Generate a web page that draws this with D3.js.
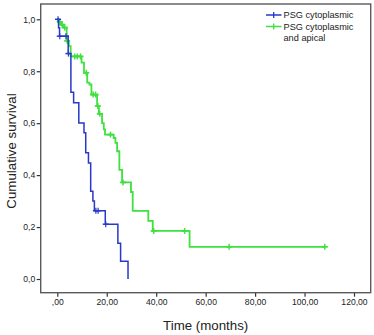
<!DOCTYPE html>
<html><head><meta charset="utf-8">
<script src="https://cdn.jsdelivr.net/npm/d3@7"></script>
<style>
html,body{margin:0;padding:0;background:#fff;}
svg{display:block;font-family:"Liberation Sans",Arial,sans-serif;}
</style></head>
<body>
<svg id="chart" width="374" height="335"></svg>
<script>
// ---- data ----
const seriesNames = ["PSG cytoplasmic", "PSG cytoplasmic", "and apical"];
const xTicks = [0, 20, 40, 60, 80, 100, 120];
const xTickLabels = [",00", "20,00", "40,00", "60,00", "80,00", "100,00", "120,00"];
const yTicks = [0, 0.2, 0.4, 0.6, 0.8, 1.0];
const yTickLabels = ["0,0", "0,2", "0,4", "0,6", "0,8", "1,0"];

// PSG cytoplasmic (blue): event times and survival after each step
const blueTimes = [0, 0.5, 0.9, 4.4, 5.5, 6.6, 8.7, 10.8, 11.5, 12.6, 13.5, 14.4, 15.0, 19.4, 24.5, 25.6, 28.6];
const blueSurv  = [1.0, 0.967, 0.935, 0.868, 0.719, 0.679, 0.601, 0.563, 0.486, 0.447, 0.338, 0.300, 0.263, 0.211, 0.138, 0.068, 0.0];
const blueCensor = [0.3, 1.0, 3.5, 4.5, 15.6, 16.5, 19.6];

// PSG cytoplasmic and apical (green)
const greenTimes = [0, 0.6, 1.5, 2.6, 3.8, 4.7, 5.4, 9.8, 10.8, 12.1, 13.0, 13.8, 16.1, 16.8, 18.1, 18.8, 19.3, 22.8, 23.5, 24.2, 25.1, 26.2, 29.8, 30.5, 36.8, 38.6, 53.5];
const greenSurv  = [1.0, 0.99, 0.979, 0.968, 0.917, 0.897, 0.857, 0.833, 0.794, 0.756, 0.749, 0.710, 0.666, 0.636, 0.600, 0.576, 0.556, 0.543, 0.524, 0.492, 0.420, 0.372, 0.335, 0.262, 0.224, 0.185, 0.124];
const greenCensor = [1.0, 2.0, 3.0, 4.0, 7.1, 8.1, 9.4, 11.7, 14.5, 15.5, 16.4, 17.2, 21.5, 26.6, 39.0, 51.5, 69.5, 108.2];
const greenEnd = 108.2;

const blueColor = "#2838c8";
const greenColor = "#3fe03f";

// ---- layout ----
const svg = d3.select("#chart");
const frame = {left: 40.7, top: 4, right: 370.7, bottom: 292.7};
const x = d3.scaleLinear().domain([0, 120]).range([57.3, 354]);
const y = d3.scaleLinear().domain([0, 1]).range([279, 19.3]);

svg.append("rect").attr("width", 374).attr("height", 335).attr("fill", "#fff");

// axes
const gx = svg.append("g").attr("transform", `translate(0,${frame.bottom})`)
  .call(d3.axisBottom(x).tickValues(xTicks).tickFormat((d, i) => xTickLabels[i]).tickSize(4).tickPadding(2));
const gy = svg.append("g").attr("transform", `translate(${frame.left},0)`)
  .call(d3.axisLeft(y).tickValues(yTicks).tickFormat((d, i) => yTickLabels[i]).tickSize(4).tickPadding(1.5));
[gx, gy].forEach(g => {
  g.select(".domain").remove();
  g.selectAll(".tick line").attr("stroke", "#333").attr("stroke-width", 1.2);
  g.selectAll(".tick text").attr("fill", "#222").style("font-size", "8.6px");
});

// frame
svg.append("rect")
  .attr("x", frame.left).attr("y", frame.top)
  .attr("width", frame.right - frame.left).attr("height", frame.bottom - frame.top)
  .attr("fill", "none").attr("stroke", "#5a5a5a").attr("stroke-width", 1.4);

// axis titles
svg.append("text").attr("x", 205.7).attr("y", 329.5).attr("text-anchor", "middle")
  .style("font-size", "13.3px").attr("fill", "#222").text("Time (months)");
svg.append("text").attr("transform", "translate(15.5,151) rotate(-90)").attr("text-anchor", "middle")
  .style("font-size", "13.3px").attr("fill", "#222").text("Cumulative survival");

// step curves
function stepValue(times, surv, t) {
  let s = surv[0];
  for (let i = 0; i < times.length; i++) { if (times[i] <= t) s = surv[i]; }
  return s;
}
const line = d3.line().x(d => x(d[0])).y(d => y(d[1])).curve(d3.curveStepAfter);

function drawCurve(times, surv, censor, endT, color, width) {
  const pts = times.map((t, i) => [t, surv[i]]);
  if (endT !== null) pts.push([endT, surv[surv.length - 1]]);
  svg.append("path").datum(pts).attr("d", line)
    .attr("fill", "none").attr("stroke", color).attr("stroke-width", width);
  const g = svg.append("g");
  censor.forEach(t => {
    const cx = x(t), cy = y(stepValue(times, surv, t));
    g.append("line").attr("x1", cx).attr("x2", cx).attr("y1", cy - 3).attr("y2", cy + 3)
      .attr("stroke", color).attr("stroke-width", width * 0.8);
    g.append("line").attr("x1", cx - 3).attr("x2", cx + 3).attr("y1", cy).attr("y2", cy)
      .attr("stroke", color).attr("stroke-width", width);
  });
}
drawCurve(greenTimes, greenSurv, greenCensor, greenEnd, greenColor, 1.8);
drawCurve(blueTimes, blueSurv, blueCensor, null, blueColor, 1.5);

// legend
const legend = [
  {color: blueColor, y: 15, lines: [seriesNames[0]]},
  {color: greenColor, y: 26.5, lines: [seriesNames[1], seriesNames[2]]}
];
legend.forEach(l => {
  svg.append("line").attr("x1", 266).attr("x2", 281.5).attr("y1", l.y).attr("y2", l.y)
    .attr("stroke", l.color).attr("stroke-width", 1.5);
  svg.append("line").attr("x1", 273.7).attr("x2", 273.7).attr("y1", l.y - 3).attr("y2", l.y + 3)
    .attr("stroke", l.color).attr("stroke-width", 1.3);
  l.lines.forEach((s, i) => {
    svg.append("text").attr("x", 283.5).attr("y", l.y + 3.2 + i * 11.6)
      .style("font-size", "9.2px").attr("fill", "#222").text(s);
  });
});
</script>
</body></html>
